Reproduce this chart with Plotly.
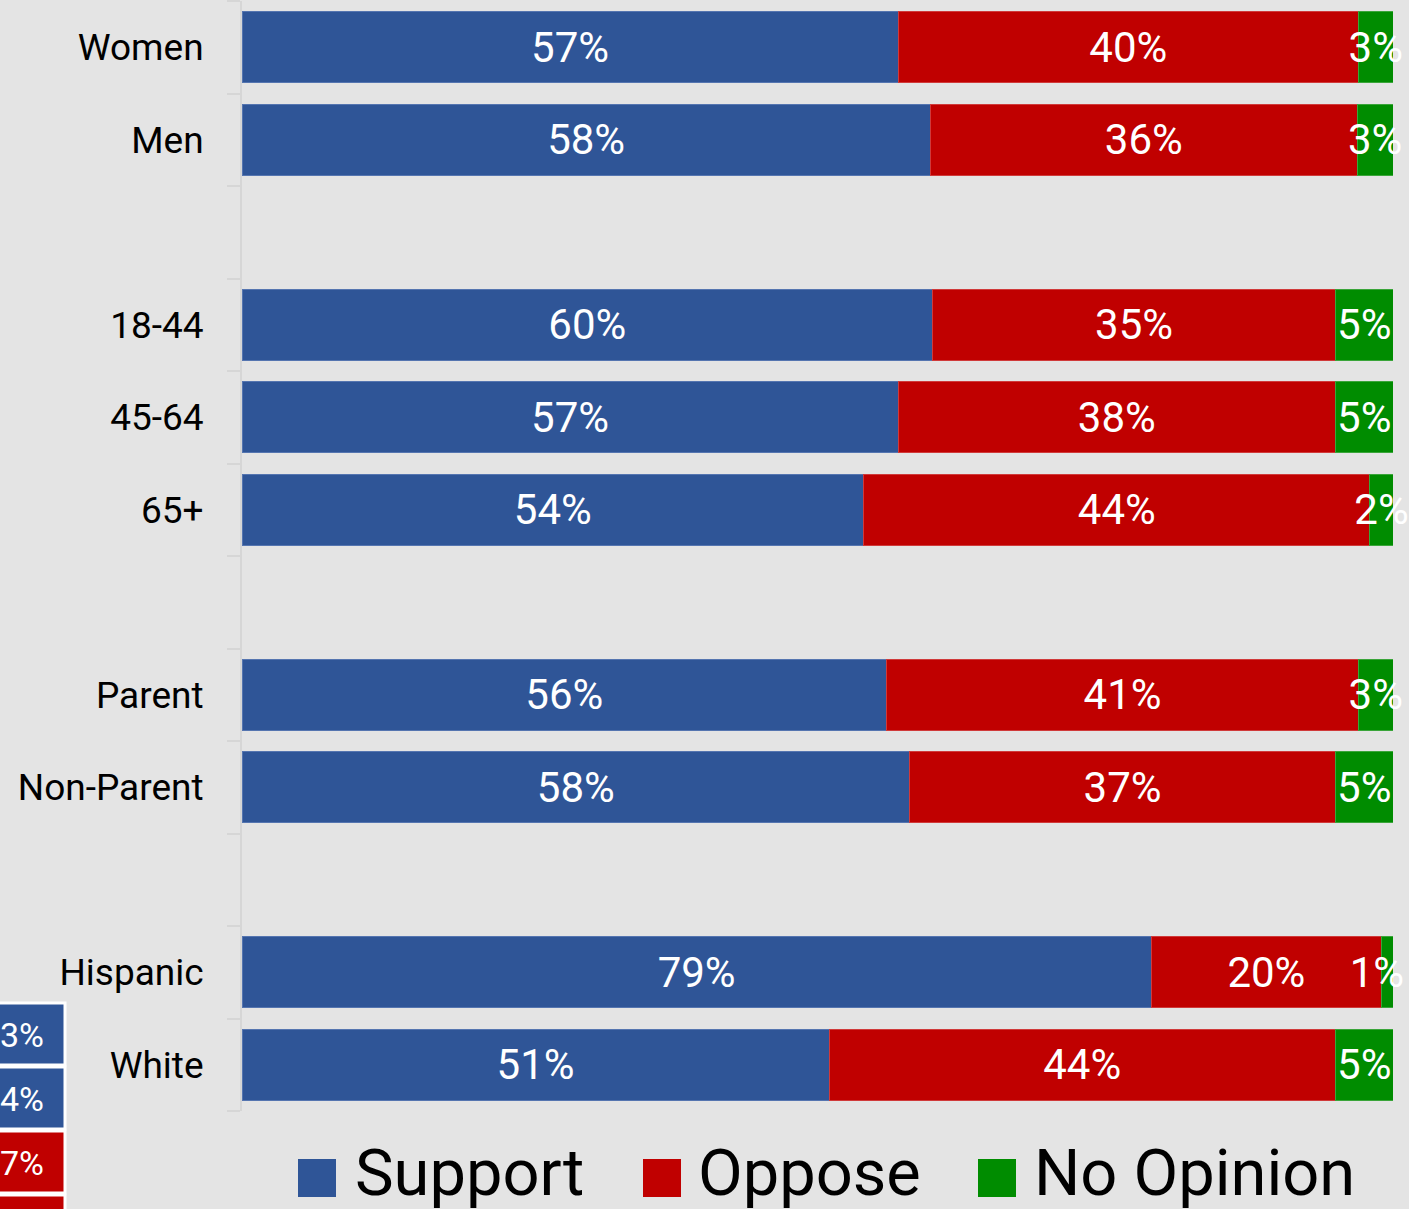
import plotly.graph_objects as go

# ---- data ----
rows = ["Women", "Men", "gap1", "18-44", "45-64", "65+", "gap2",
        "Parent", "Non-Parent", "gap3", "Hispanic", "White"]
row_labels = ["Women", "Men", "", "18-44", "45-64", "65+", "",
              "Parent", "Non-Parent", "", "Hispanic", "White"]
support = [57, 58, None, 60, 57, 54, None, 56, 58, None, 79, 51]
oppose = [40, 36, None, 35, 38, 44, None, 41, 37, None, 20, 44]
no_opinion = [3, 3, None, 5, 5, 2, None, 3, 5, None, 1, 5]

series_names = ["Support", "Oppose", "No Opinion"]
series_values = [support, oppose, no_opinion]
series_colors = ["#2F5597", "#C00000", "#008C00"]
edge_colors = ["#5575b0", "#d03a3a", "#3aa53a"]

# fragment of a neighbouring chart visible at the lower left
frag_labels = ["3%", "4%", "7%", ""]
frag_colors = ["#2F5597", "#2F5597", "#C00000", "#C00000"]

W, H = 1409, 1209
L, R, T, B = 242, 16, 1, 98
PW, PH = W - L - R, H - T - B


def px_x(x):
    return (x - L) / PW


def px_y(y):
    return (H - B - y) / PH


FONT = "Roboto"


def label(v):
    if v is None:
        return ""
    s = f"{v}%"
    # very thin segments: nudge label left so it stays inside the page
    if v < 2:
        s += "\u00a0\u00a0"
    return s


fig = go.Figure()
for name, vals, col, ec in zip(series_names, series_values, series_colors, edge_colors):
    fig.add_trace(go.Bar(
        y=rows, x=vals, name=name, orientation="h",
        marker=dict(color=col, line=dict(color=ec, width=1)),
        text=[label(v) for v in vals],
        textposition="inside", insidetextanchor="middle", textangle=0,
        constraintext="none", cliponaxis=False,
        textfont=dict(family=FONT, size=42, color="white"),
        showlegend=False, hoverinfo="skip",
    ))

shapes = []
annotations = []

# manual legend
legend_items = [(298, 357), (643, 700), (978, 1036)]
for (sx, tx), name, col in zip(legend_items, series_names, series_colors):
    shapes.append(dict(type="rect", xref="paper", yref="paper",
                       x0=px_x(sx), x1=px_x(sx + 38), y0=px_y(1197), y1=px_y(1159),
                       fillcolor=col, line=dict(width=0), layer="above"))
    annotations.append(dict(text=name, xref="paper", yref="paper",
                            x=px_x(tx - 4), y=px_y(1173), xanchor="left", yanchor="middle",
                            showarrow=False, font=dict(family=FONT, size=65, color="black")))

# lower-left fragment
frag_tops = [1003, 1067, 1131, 1195]
for lab, col, top in zip(frag_labels, frag_colors, frag_tops):
    shapes.append(dict(type="rect", xref="paper", yref="paper",
                       x0=px_x(-5), x1=px_x(65), y0=px_y(top + 62), y1=px_y(top),
                       fillcolor=col, line=dict(color="white", width=3), layer="above"))
    if lab:
        annotations.append(dict(text=lab, xref="paper", yref="paper",
                                x=px_x(-2), y=px_y(top + 32), xanchor="left", yanchor="middle",
                                showarrow=False, font=dict(family=FONT, size=34, color="white")))

fig.update_layout(
    barmode="stack", barnorm="percent", bargap=0.232,
    width=W, height=H,
    margin=dict(l=L, r=R, t=T, b=B, pad=0),
    paper_bgcolor="#e4e4e4", plot_bgcolor="#e4e4e4",
    uniformtext=dict(minsize=42, mode="show"),
    shapes=shapes, annotations=annotations,
    xaxis=dict(range=[0, 100], visible=False, fixedrange=True),
    yaxis=dict(
        type="category", categoryorder="array", categoryarray=rows,
        tickvals=rows, ticktext=row_labels,
        autorange="reversed", tickson="boundaries",
        ticks="outside", ticklen=13, tickwidth=2, tickcolor="#d6d6d6",
        showline=True, linecolor="#d6d6d6", linewidth=2,
        showgrid=False, zeroline=False, fixedrange=True,
        ticklabelstandoff=29,
        tickfont=dict(family=FONT, size=37, color="black"),
    ),
)

fig.write_html(
    "out.html",
    config={"displayModeBar": False},
    post_script="document.body.style.margin='0';document.body.style.overflow='hidden';document.body.style.background='#e4e4e4';",
)
